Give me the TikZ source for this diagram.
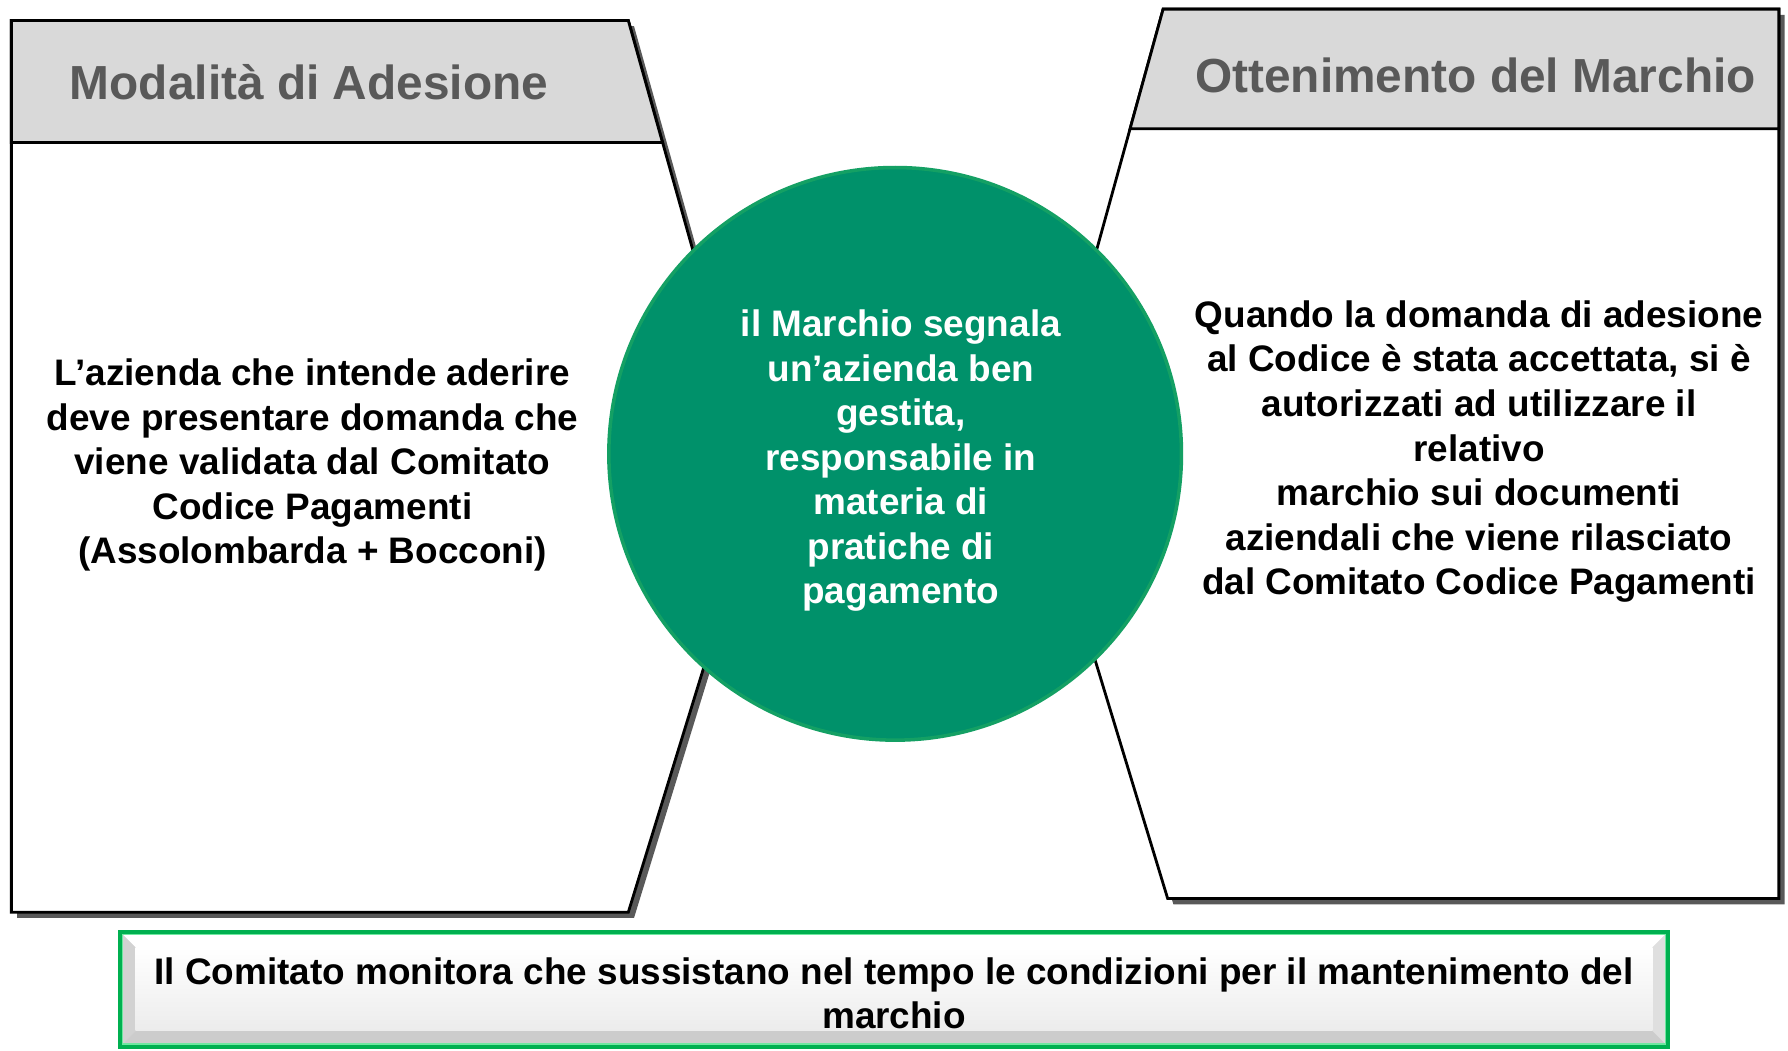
\documentclass[tikz,border=0pt]{standalone}
\usepackage{fontspec}
\setmainfont{Liberation Sans}
\definecolor{headgray}{HTML}{D9D9D9}
\definecolor{headtext}{HTML}{595959}
\definecolor{shadowgray}{HTML}{595959}
\definecolor{markgreen}{HTML}{00916A}
\definecolor{markedge}{HTML}{14A064}
\definecolor{framegreen}{HTML}{00B050}
\definecolor{framelight}{HTML}{6EE8A0}
\begin{document}
\begin{tikzpicture}[x=0.011403cm,y=-0.011403cm,
    panel/.style={draw=black,line width=0.8pt,fill=white},
    panelshadow/.style={fill=shadowgray},
    header/.style={draw=black,line width=0.8pt,fill=headgray},
    headtitle/.style={font=\fontsize{13.6}{16}\selectfont\bfseries,text=headtext,inner sep=0pt},
    bodytext/.style={font=\fontsize{10.5}{12.66}\selectfont\bfseries,align=center,inner sep=0pt}]
  \useasboundingbox (0,0) rectangle (1568,921);
  \fill[panelshadow,shift={(5,5)}] (10,18) -- (551,18) -- (666,427) -- (551,800) -- (10,800) -- cycle;
  \fill[panelshadow,shift={(5,5)}] (1020,8) -- (1560,8) -- (1560,788) -- (1024,788) -- (909,410) -- cycle;
  \filldraw[panel] (10,18) -- (551,18) -- (666,427) -- (551,800) -- (10,800) -- cycle;
  \filldraw[panel] (1020,8) -- (1560,8) -- (1560,788) -- (1024,788) -- (909,410) -- cycle;
  \filldraw[header] (10,18) -- (551,18) -- (581,125) -- (10,125) -- cycle;
  \filldraw[header] (1020,8) -- (1560,8) -- (1560,113) -- (991,113) -- cycle;
  \node[headtitle] (adesione) at (271,72) {Modalità di Adesione};
  \node[headtitle] (ottenimento) at (1294,66) {Ottenimento del Marchio};
  \node[bodytext] (domanda) at (274,408) {L’azienda che intende aderire\\deve presentare domanda che\\viene validata dal Comitato\\Codice Pagamenti\\(Assolombarda + Bocconi)};
  \node[bodytext] (utilizzo) at (1297,396) {Quando la domanda di adesione\\al Codice è stata accettata, si è\\autorizzati ad utilizzare il\\relativo\\marchio sui documenti\\aziendali che viene rilasciato\\dal Comitato Codice Pagamenti};
  \node[circle,fill=markgreen,draw=markedge,line width=1pt,minimum size=5.724cm,inner sep=0pt] (marchio) at (785,398) {};
  \node[bodytext,text=white] (segnala) at (790,404) {il Marchio segnala\\un’azienda ben\\gestita,\\responsabile in\\materia di\\pratiche di\\pagamento};
  \fill[gray!18] (105,817) rectangle (1463,918);
  \fill[white] (105,817) -- (1463,817) -- (1449,831) -- (119,831) -- cycle;
  \fill[gray!35] (105,817) -- (119,831) -- (119,904) -- (105,918) -- cycle;
  \fill[gray!25] (1463,817) -- (1449,831) -- (1449,904) -- (1463,918) -- cycle;
  \fill[gray!40] (105,918) -- (119,904) -- (1449,904) -- (1463,918) -- cycle;
  \shade[top color=white,bottom color=gray!15] (119,831) rectangle (1449,904);
  \draw[framelight,line width=0.6pt] (107,819) rectangle (1461,916);
  \draw[framegreen,line width=1.2pt] (105,817) rectangle (1463,918);
  \node[bodytext] (monitora) at (784,871) {Il Comitato monitora che sussistano nel tempo le condizioni per il mantenimento del\\marchio};
\end{tikzpicture}
\end{document}
